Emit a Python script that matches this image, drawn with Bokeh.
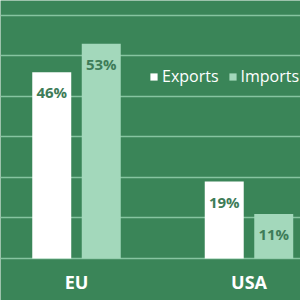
from bokeh.plotting import figure
from bokeh.models import Range1d, FixedTicker, ColumnDataSource, Legend, LegendItem
from bokeh.core.properties import value
from bokeh.embed import file_html
from bokeh.resources import INLINE

regions = ["EU", "USA"]
exports = [46, 19]
imports = [53, 11]
grid_ticks = [0, 10, 20, 30, 40, 50, 60]

BG = "#3a8558"
IMP = "#a3d8bb"
LBL = "#3e7c58"

xs = list(range(len(regions)))
off = 0.1435
bw = 0.226

src_e = ColumnDataSource(dict(x=[v - off for v in xs], top=exports, lbl=[f"{v}%" for v in exports]))
src_i = ColumnDataSource(dict(x=[v + off for v in xs], top=imports, lbl=[f"{v}%" for v in imports]))
src_c = ColumnDataSource(dict(x=xs, y=[0] * len(xs), name=regions))

p = figure(width=300, height=300, output_backend="svg", toolbar_location=None,
           x_range=Range1d(-0.4406, 1.2986), y_range=Range1d(-10.37, 63.7),
           min_border=0, outline_line_color=None)
p.background_fill_color = BG
p.border_fill_color = BG
p.xaxis.visible = False
p.yaxis.visible = False
p.xgrid.visible = False
p.ygrid.ticker = FixedTicker(ticks=grid_ticks)
p.ygrid.grid_line_color = "#86c4a0"
p.ygrid.grid_line_width = 1.5

re = p.vbar(x="x", top="top", bottom=0, width=bw, source=src_e, fill_color="white", line_color=None)
ri = p.vbar(x="x", top="top", bottom=0, width=bw, source=src_i, fill_color=IMP, line_color=None)

for s in (src_e, src_i):
    p.text(x="x", y="top", text="lbl", source=s, text_align="center", text_baseline="middle",
           y_offset=20, text_font=value("Open Sans"), text_font_style="bold",
           text_font_size="15px", text_color=LBL)

p.text(x="x", y="y", text="name", source=src_c, text_align="center", text_baseline="middle",
       y_offset=24, text_font=value("Open Sans"), text_font_style="bold",
       text_font_size="18px", text_color="white")

legend = Legend(items=[LegendItem(label="Exports", renderers=[re]),
                       LegendItem(label="Imports", renderers=[ri])],
                orientation="horizontal", location=(149, 213),
                background_fill_alpha=0, border_line_color=None,
                label_text_color="white", label_text_font="Open Sans",
                label_text_font_size="16px", glyph_width=9, glyph_height=9,
                label_standoff=4, spacing=9, padding=4, margin=0)
p.add_layout(legend)

open("out.html", "w").write(file_html(p, INLINE))
